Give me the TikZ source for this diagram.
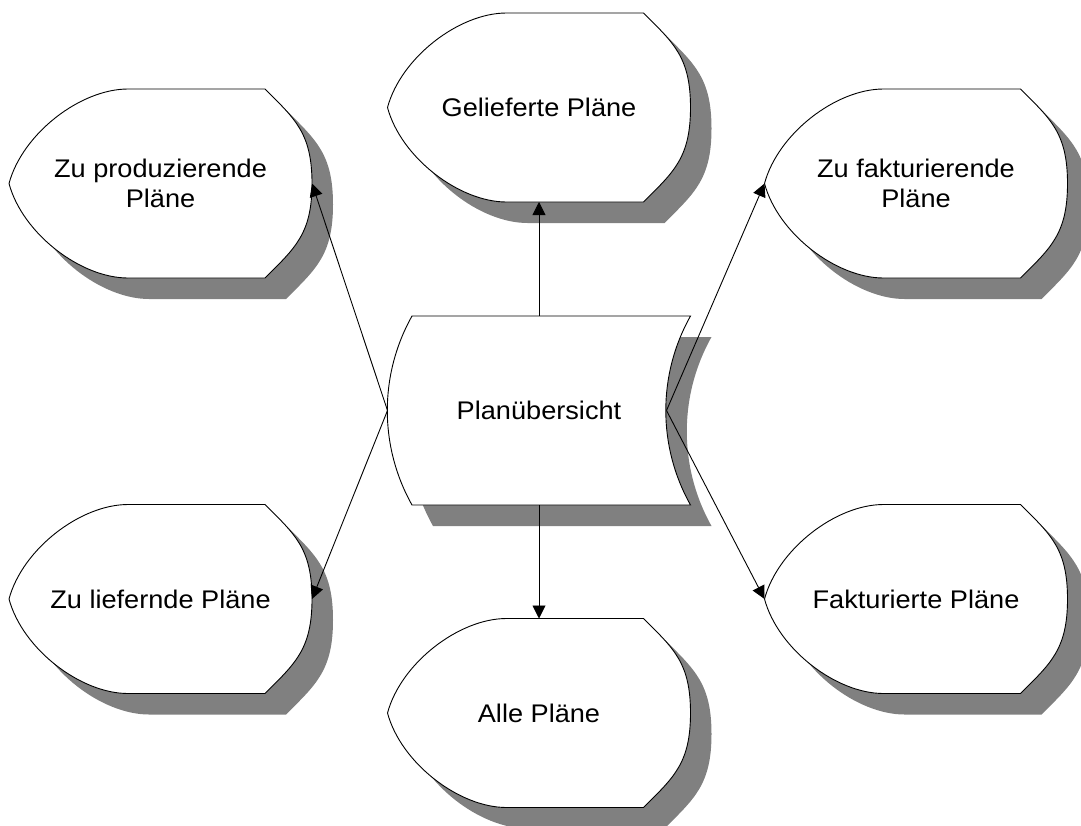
\documentclass[tikz,border=0pt]{standalone}
\usepackage{fontspec}
\setmainfont{Liberation Sans}[FakeStretch=1.065]
\usetikzlibrary{arrows.meta,backgrounds}

\definecolor{shadowgray}{RGB}{128,128,128}

% Outline of a "display" shape, centred on the current origin (303 x 189)
\newcommand\displayshape[1]{%
  \path[#1] (-151.5,0) .. controls (-138,-50) and (-80,-94.5) .. (-32.5,-94.5)
    -- (104.5,-94.5) .. controls (134.5,-64.5) and (151.5,-50.5) .. (151.5,0)
    .. controls (151.5,50.5) and (134.5,64.5) .. (104.5,94.5)
    -- (-32.5,94.5) .. controls (-80,94.5) and (-138,50) .. (-151.5,0) -- cycle;}

% Outline of the stored-data shape with two parallel curved sides
\newcommand\storedshape[1]{%
  \path[#1] (151.5,-94.5) arc[start angle=150.7,end angle=209.3,radius=193.1pt]
    -- (-127.0,94.5) arc[start angle=209.3,end angle=150.7,radius=193.1pt]
    -- cycle;}

\tikzset{
  box/.style={minimum width=303pt, minimum height=189pt, inner sep=0pt,
    outer sep=0pt, align=center, text=black,
    font=\fontsize{25.5}{30.7}\selectfont},
  outline/.style={draw=black, fill=white, line width=0.9pt},
  shadowfill/.style={fill=shadowgray},
  conn/.style={draw=black, line width=0.9pt,
    -{Triangle[length=13pt,width=13pt]}},
}

\begin{document}
\begin{tikzpicture}[x=1pt, y=-1pt]
  \useasboundingbox (0,0) rectangle (1081,825);

  % text nodes
  \node[box] (gel)   at (539,107.5)   {Gelieferte Pläne};
  \node[box] (prod)  at (160.5,183.5) {Zu produzierende\\Pläne};
  \node[box] (zfakt) at (916,183.5)   {Zu fakturierende\\Pläne};
  \node[box] (plan)  at (539,410.5)   {Planübersicht};
  \node[box] (lief)  at (160.5,599)   {Zu liefernde Pläne};
  \node[box] (fakt)  at (916,599)     {Fakturierte Pläne};
  \node[box] (alle)  at (539,713)     {Alle Pläne};

  \begin{scope}[on background layer]
    % drop shadows
    \foreach \n in {gel,prod,zfakt,lief,fakt,alle}{
      \begin{scope}[shift={(\n.center)}, shift={(21,21)}]
        \displayshape{shadowfill}
      \end{scope}
    }
    \begin{scope}[shift={(plan.center)}, shift={(21,21)}]
      \storedshape{shadowfill}
    \end{scope}
    % shapes
    \foreach \n in {gel,prod,zfakt,lief,fakt,alle}{
      \begin{scope}[shift={(\n.center)}]
        \displayshape{outline}
      \end{scope}
    }
    \begin{scope}[shift={(plan.center)}]
      \storedshape{outline}
    \end{scope}
  \end{scope}

  % connectors
  \coordinate (planin) at ([xshift=-24pt]plan.east);
  \draw[conn] (plan.north) -- (gel.south);
  \draw[conn] (plan.south) -- (alle.north);
  \draw[conn] (plan.west) -- (prod.east);
  \draw[conn] (plan.west) -- (lief.east);
  \draw[conn] (planin) -- (zfakt.west);
  \draw[conn] (planin) -- (fakt.west);
\end{tikzpicture}
\end{document}
